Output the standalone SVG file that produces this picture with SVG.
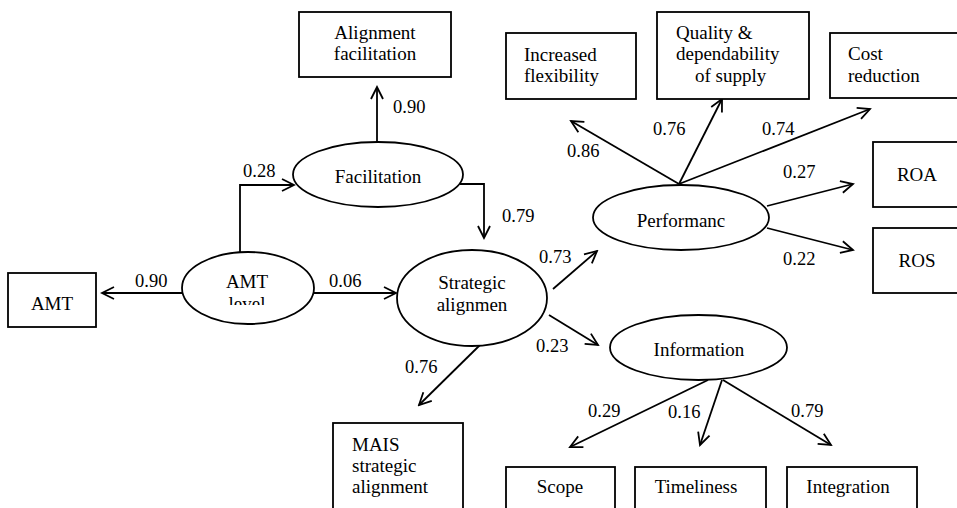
<svg xmlns="http://www.w3.org/2000/svg" width="957" height="508" viewBox="0 0 957 508">
<defs>
<style>
.box{fill:#fff;stroke:#000;stroke-width:1.8}
.ell{fill:#fff;stroke:#000;stroke-width:1.8}
.t{font-family:"Liberation Serif","Times New Roman",serif;font-size:19px;fill:#000}
.c{text-anchor:middle}
.n{font-family:"Liberation Serif","Times New Roman",serif;font-size:18.5px;fill:#000}
.ln{fill:none;stroke:#000;stroke-width:1.8;marker-end:url(#arr)}
</style>
<marker id="arr" markerUnits="userSpaceOnUse" markerWidth="16" markerHeight="16" viewBox="-14 -8 16 16" refX="0" refY="0" orient="auto">
<path d="M-12,-6 L0,0 L-12,6" fill="none" stroke="#000" stroke-width="1.8"/>
</marker>
<clipPath id="clipLevel"><rect x="180" y="250" width="140" height="55"/></clipPath>
</defs>
<rect width="957" height="508" fill="#fff"/>

<g id="connectors">
<path class="ln" d="M377,142 L377,87"/>
<path class="ln" d="M240,252 L240,185 L294,185"/>
<path class="ln" d="M460,184 L484,184 L484,238"/>
<path class="ln" d="M182,293 L102,293"/>
<path class="ln" d="M314,293 L396,293"/>
<path class="ln" d="M553,289 L597,251"/>
<path class="ln" d="M549,315 L598,345"/>
<path class="ln" d="M480,345 L419,405"/>
<path class="ln" d="M679,184 L571,121"/>
<path class="ln" d="M679,184 L722,99"/>
<path class="ln" d="M679,184 L870,109"/>
<path class="ln" d="M767,206 L853,184"/>
<path class="ln" d="M767,228 L853,250"/>
<path class="ln" d="M708,380 L570,447"/>
<path class="ln" d="M722,380 L700,445"/>
<path class="ln" d="M723,380 L831,445"/>
</g>

<g id="labels">
<text class="n" x="393" y="113">0.90</text>
<text class="n" x="243" y="177">0.28</text>
<text class="n" x="502" y="222">0.79</text>
<text class="n" x="135" y="287">0.90</text>
<text class="n" x="329" y="287">0.06</text>
<text class="n" x="539" y="263">0.73</text>
<text class="n" x="536" y="352">0.23</text>
<text class="n" x="405" y="373">0.76</text>
<text class="n" x="567" y="157">0.86</text>
<text class="n" x="653" y="135">0.76</text>
<text class="n" x="762" y="135">0.74</text>
<text class="n" x="783" y="178">0.27</text>
<text class="n" x="783" y="265">0.22</text>
<text class="n" x="588" y="417">0.29</text>
<text class="n" x="668" y="418">0.16</text>
<text class="n" x="791" y="417">0.79</text>
</g>

<g id="alignment-facilitation">
<rect class="box" x="299" y="12" width="152" height="65"/>
<text class="t c" x="375" y="39">Alignment</text>
<text class="t c" x="375" y="60">facilitation</text>
</g>
<g id="facilitation">
<ellipse class="ell" cx="378" cy="174.5" rx="85" ry="32.5"/>
<text class="t c" x="378" y="183">Facilitation</text>
</g>
<g id="amt">
<rect class="box" x="8" y="273" width="88" height="54"/>
<text class="t c" x="52" y="310">AMT</text>
</g>
<g id="amt-level">
<ellipse class="ell" cx="248" cy="288" rx="66" ry="36"/>
<text class="t c" x="247" y="288">AMT</text>
<text class="t c" x="247" y="310" clip-path="url(#clipLevel)">level</text>
</g>
<g id="strategic-alignment">
<ellipse class="ell" cx="472" cy="298" rx="75" ry="48"/>
<text class="t c" x="472" y="289">Strategic</text>
<text class="t c" x="472" y="311">alignmen</text>
</g>
<g id="mais">
<rect class="box" x="333" y="423" width="130" height="100"/>
<text class="t" x="352" y="451">MAIS</text>
<text class="t" x="352" y="472">strategic</text>
<text class="t" x="352" y="493">alignment</text>
</g>
<g id="performance">
<ellipse class="ell" cx="681" cy="217.5" rx="88" ry="32.5"/>
<text class="t c" x="681" y="227">Performanc</text>
</g>
<g id="increased-flexibility">
<rect class="box" x="506" y="33" width="130" height="66"/>
<text class="t" x="524" y="61">Increased</text>
<text class="t" x="524" y="82">flexibility</text>
</g>
<g id="quality">
<rect class="box" x="657" y="12" width="152" height="87"/>
<text class="t" x="676" y="39">Quality &amp;</text>
<text class="t" x="676" y="60">dependability</text>
<text class="t" x="695" y="82">of supply</text>
</g>
<g id="cost-reduction">
<rect class="box" x="830" y="33" width="140" height="65"/>
<text class="t" x="848" y="60">Cost</text>
<text class="t" x="848" y="82">reduction</text>
</g>
<g id="roa">
<rect class="box" x="873" y="142" width="100" height="65"/>
<text class="t c" x="917" y="181">ROA</text>
</g>
<g id="ros">
<rect class="box" x="873" y="228" width="100" height="65"/>
<text class="t c" x="917" y="267">ROS</text>
</g>
<g id="information">
<ellipse class="ell" cx="698.5" cy="347.5" rx="88.5" ry="32.5"/>
<text class="t c" x="699" y="356">Information</text>
</g>
<g id="scope">
<rect class="box" x="506" y="467" width="109" height="60"/>
<text class="t c" x="560" y="493">Scope</text>
</g>
<g id="timeliness">
<rect class="box" x="635" y="467" width="131" height="60"/>
<text class="t c" x="696" y="493">Timeliness</text>
</g>
<g id="integration">
<rect class="box" x="787" y="467" width="130" height="60"/>
<text class="t c" x="848" y="493">Integration</text>
</g>
</svg>
